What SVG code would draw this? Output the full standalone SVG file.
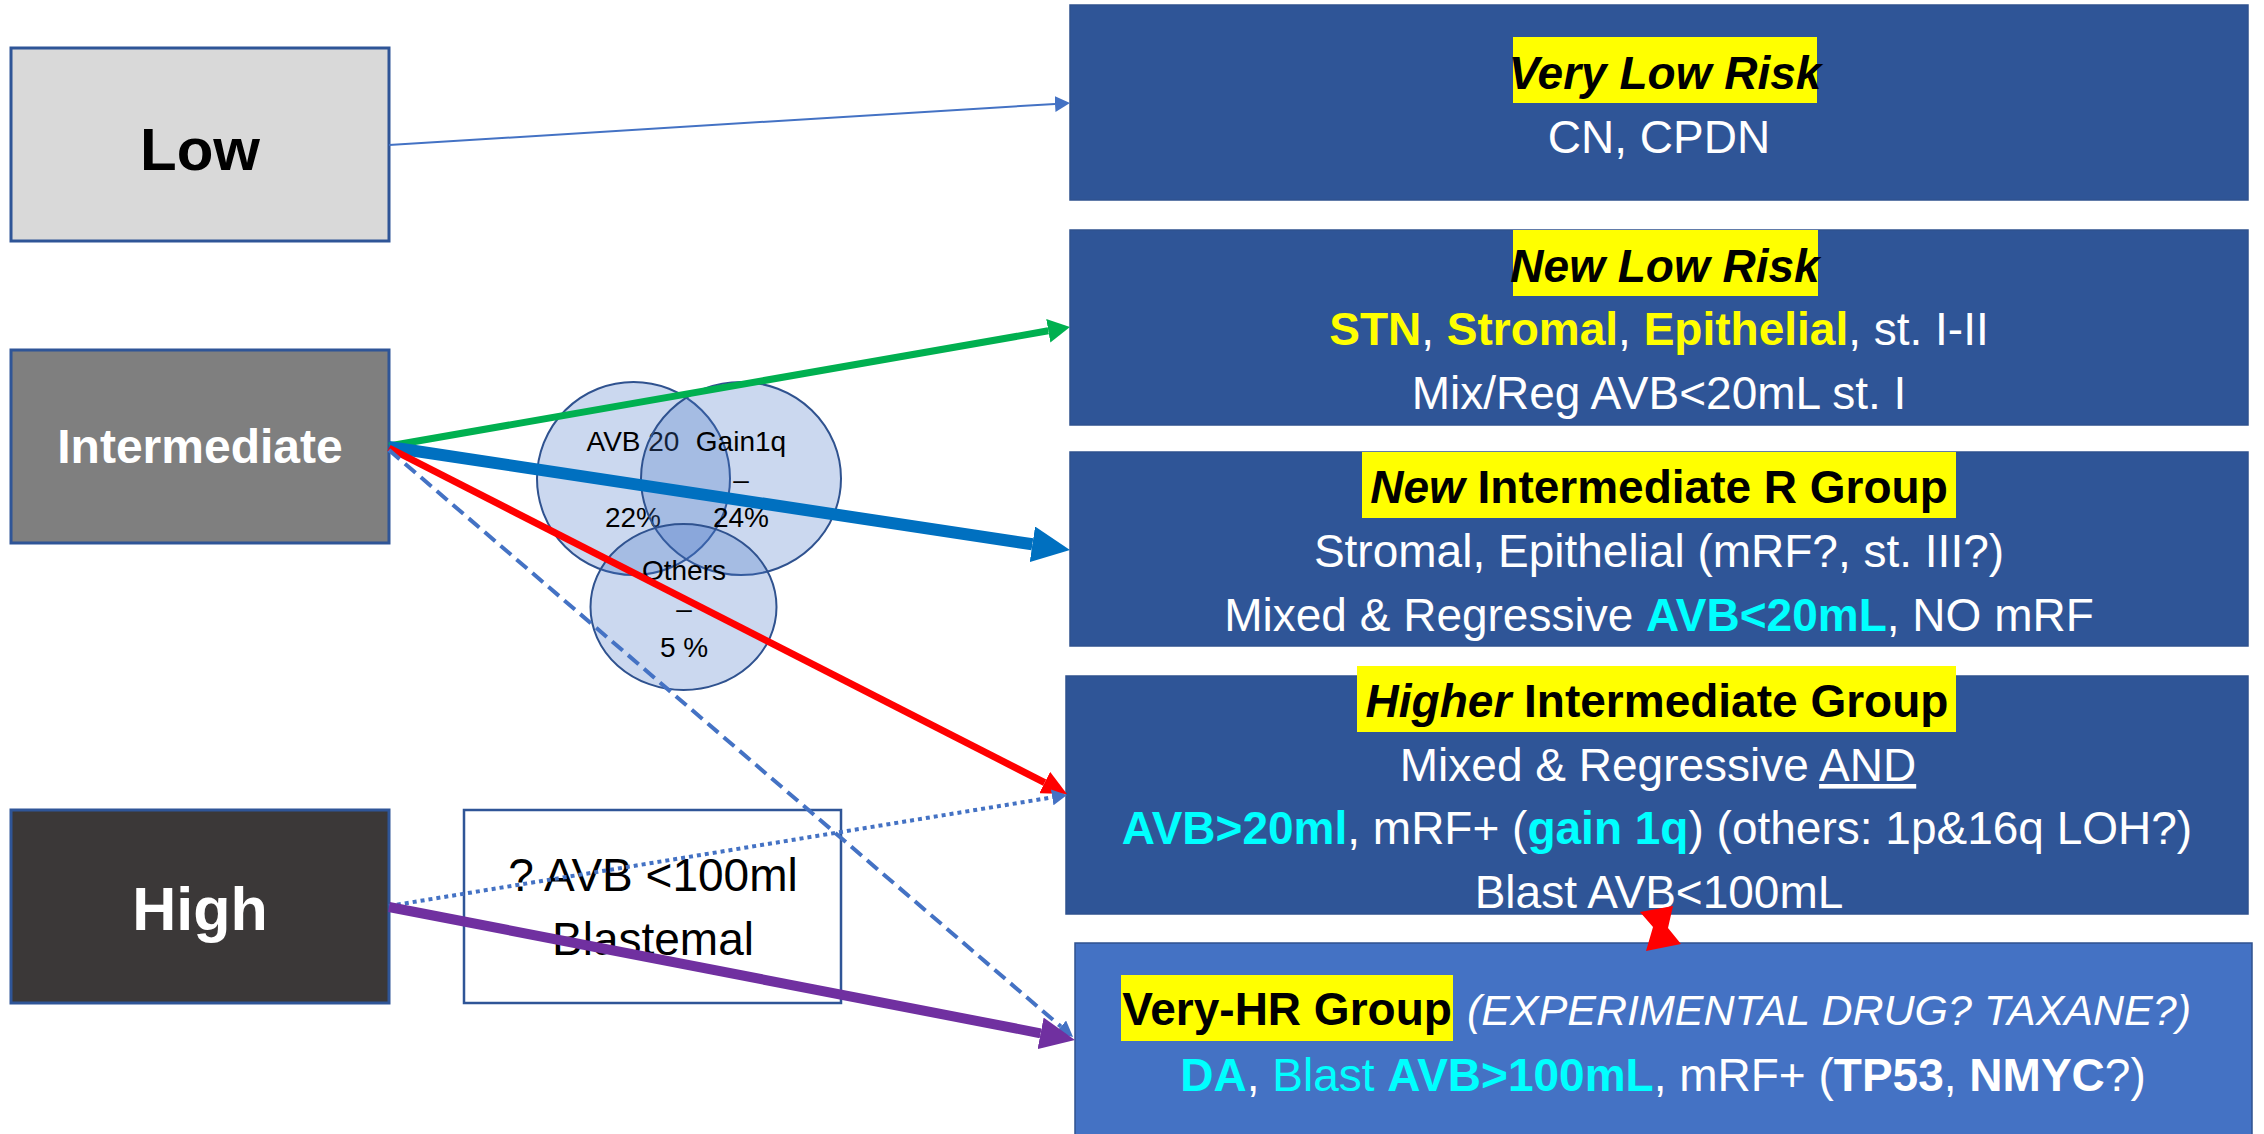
<svg xmlns="http://www.w3.org/2000/svg" width="2264" height="1134" viewBox="0 0 2264 1134">
<style>
text{font-family:"Liberation Sans",Arial,sans-serif}
.lbox{stroke:#2F5597;stroke-width:3}
.rbox{fill:#2F5597;stroke:#2F528F;stroke-width:1.5}
.rbox5{fill:#4472C4;stroke:#2F528F;stroke-width:1.5}
.hl{fill:#FFFF00}
.ht{font-size:46px;font-weight:bold;fill:#000}
.bt{font-size:46px;fill:#fff}
.b{font-weight:bold}
.i{font-style:italic}
.y{fill:#FFFF00;font-weight:bold}
.c{fill:#00FFFF}
.venn{fill:#4472C4;fill-opacity:0.28;stroke:#2F528F;stroke-width:2}
.vt{font-size:28px;fill:#000}
</style>
<defs>
<marker id="mThin" markerUnits="userSpaceOnUse" markerWidth="15" markerHeight="16" refX="0" refY="8" orient="auto"><path d="M0,0 L15,8 L0,16 z" fill="#4472C4"/></marker>
<marker id="mGreen" markerUnits="userSpaceOnUse" markerWidth="22" markerHeight="24" refX="0" refY="12" orient="auto"><path d="M0,0 L22,12 L0,24 z" fill="#00B050"/></marker>
<marker id="mBlue" markerUnits="userSpaceOnUse" markerWidth="38" markerHeight="36" refX="0" refY="18" orient="auto"><path d="M0,0 L38,18 L0,36 z" fill="#0070C0"/></marker>
<marker id="mRed" markerUnits="userSpaceOnUse" markerWidth="25" markerHeight="24" refX="0" refY="12" orient="auto"><path d="M0,0 L25,12 L0,24 z" fill="#FF0000"/></marker>
<marker id="mDash" markerUnits="userSpaceOnUse" markerWidth="16" markerHeight="16" refX="0" refY="8" orient="auto"><path d="M0,0 L16,8 L0,16 z" fill="#4472C4"/></marker>
<marker id="mPurple" markerUnits="userSpaceOnUse" markerWidth="35" markerHeight="32" refX="0" refY="16" orient="auto"><path d="M0,0 L35,16 L0,32 z" fill="#7030A0"/></marker>
</defs>
<rect width="2264" height="1134" fill="#fff"/>

<g id="node-low">
<rect class="lbox" x="11" y="48" width="378" height="193" fill="#D9D9D9"/>
<text x="200" y="170" text-anchor="middle" font-size="60" font-weight="bold" fill="#000">Low</text>
</g>
<g id="node-intermediate">
<rect class="lbox" x="11" y="350" width="378" height="193" fill="#7F7F7F"/>
<text x="200" y="463" text-anchor="middle" font-size="48" font-weight="bold" fill="#fff">Intermediate</text>
</g>
<g id="node-high">
<rect class="lbox" x="11" y="810" width="378" height="193" fill="#3B3838"/>
<text x="200" y="930" text-anchor="middle" font-size="61" font-weight="bold" fill="#fff">High</text>
</g>
<g id="node-avb-note">
<rect x="464" y="810" width="377" height="193" fill="#fff" stroke="#2F5597" stroke-width="2.5"/>
<text x="653" y="891" text-anchor="middle" font-size="46" fill="#000">? AVB &lt;100ml</text>
<text x="653" y="955" text-anchor="middle" font-size="46" fill="#000">Blastemal</text>
</g>

<g id="node-venn-avb20">
<ellipse class="venn" cx="633.5" cy="478.5" rx="96.5" ry="96.5"/>
<text class="vt" x="633" y="451" text-anchor="middle">AVB 20</text>
<text class="vt" x="633" y="527" text-anchor="middle">22%</text>
</g>
<g id="node-venn-gain1q">
<ellipse class="venn" cx="741" cy="478.5" rx="100" ry="96.5"/>
<text class="vt" x="741" y="451" text-anchor="middle">Gain1q</text>
<text class="vt" x="741" y="489" text-anchor="middle">–</text>
<text class="vt" x="741" y="527" text-anchor="middle">24%</text>
</g>
<g id="node-venn-others">
<ellipse class="venn" cx="683.5" cy="607" rx="93" ry="83"/>
<text class="vt" x="684" y="580" text-anchor="middle">Others</text>
<text class="vt" x="684" y="618" text-anchor="middle">–</text>
<text class="vt" x="684" y="657" text-anchor="middle">5 %</text>
</g>

<g id="node-very-low-risk">
<rect class="rbox" x="1070" y="5" width="1178" height="195"/>
<rect class="hl" x="1513" y="37" width="304" height="66"/>
<text class="ht i" x="1665" y="89" text-anchor="middle">Very Low Risk</text>
<text class="bt" x="1659" y="153" text-anchor="middle">CN, CPDN</text>
</g>
<g id="node-new-low-risk">
<rect class="rbox" x="1070" y="230" width="1178" height="195"/>
<rect class="hl" x="1513" y="230" width="305" height="66"/>
<text class="ht i" x="1665" y="282" text-anchor="middle">New Low Risk</text>
<text class="bt" x="1659" y="345" text-anchor="middle"><tspan class="y">STN</tspan>, <tspan class="y">Stromal</tspan>, <tspan class="y">Epithelial</tspan>, st. I-II</text>
<text class="bt" x="1659" y="409" text-anchor="middle">Mix/Reg AVB&lt;20mL st. I</text>
</g>
<g id="node-new-intermediate">
<rect class="rbox" x="1070" y="452" width="1178" height="194"/>
<rect class="hl" x="1362" y="452" width="594" height="66"/>
<text class="ht" x="1659" y="503" text-anchor="middle"><tspan class="i">New</tspan> Intermediate R Group</text>
<text class="bt" x="1659" y="567" text-anchor="middle">Stromal, Epithelial (mRF?, st. III?)</text>
<text class="bt" x="1659" y="631" text-anchor="middle">Mixed &amp; Regressive <tspan class="c b">AVB&lt;20mL</tspan>, NO mRF</text>
</g>
<g id="node-higher-intermediate">
<rect class="rbox" x="1066" y="676" width="1182" height="238"/>
<rect class="hl" x="1357" y="666" width="599" height="66"/>
<text class="ht" x="1657" y="717" text-anchor="middle"><tspan class="i">Higher</tspan> Intermediate Group</text>
<text class="bt" x="1658" y="781" text-anchor="middle">Mixed &amp; Regressive <tspan text-decoration="underline">AND</tspan></text>
<text class="bt" x="1657" y="844" text-anchor="middle"><tspan class="c b">AVB&gt;20ml</tspan>, mRF+ (<tspan class="c b">gain 1q</tspan>) (others: 1p&amp;16q LOH?)</text>
<text class="bt" x="1659" y="908" text-anchor="middle">Blast AVB&lt;100mL</text>
</g>
<g id="node-very-hr">
<rect class="rbox5" x="1075" y="943" width="1177" height="200"/>
<rect class="hl" x="1121" y="975" width="332" height="66"/>
<text class="ht" x="1287" y="1025" text-anchor="middle">Very-HR Group</text>
<text x="1467" y="1025" font-size="43" font-style="italic" fill="#fff">(EXPERIMENTAL DRUG? TAXANE?)</text>
<text class="bt" x="1663" y="1091" text-anchor="middle"><tspan class="c b">DA</tspan>, <tspan class="c">Blast </tspan><tspan class="c b">AVB&gt;100mL</tspan>, mRF+ (<tspan class="b">TP53</tspan>, <tspan class="b">NMYC</tspan>?)</text>
</g>

<g id="connectors" fill="none">
<line x1="389" y1="145" x2="1055" y2="103.9" stroke="#4472C4" stroke-width="2" marker-end="url(#mThin)"/>
<line x1="389" y1="446" x2="1048.3" y2="330.8" stroke="#00B050" stroke-width="7" marker-end="url(#mGreen)"/>
<line x1="389" y1="447" x2="1032.4" y2="544.3" stroke="#0070C0" stroke-width="12" marker-end="url(#mBlue)"/>
<line x1="389" y1="448" x2="1044.7" y2="782.6" stroke="#FF0000" stroke-width="7" marker-end="url(#mRed)"/>
<line x1="389" y1="450" x2="1060.9" y2="1026.6" stroke="#4472C4" stroke-width="4" stroke-dasharray="14 7" marker-end="url(#mDash)"/>
<line x1="389" y1="906" x2="1052.2" y2="797.4" stroke="#4472C4" stroke-width="4" stroke-dasharray="4 4" marker-end="url(#mThin)"/>
<line x1="389" y1="907" x2="1040.6" y2="1033.3" stroke="#7030A0" stroke-width="10" marker-end="url(#mPurple)"/>
<path d="M1640,912 L1673,906 L1668,928 L1681,944 L1646,951 L1653,927 Z" fill="#FF0000"/>
</g>
</svg>
